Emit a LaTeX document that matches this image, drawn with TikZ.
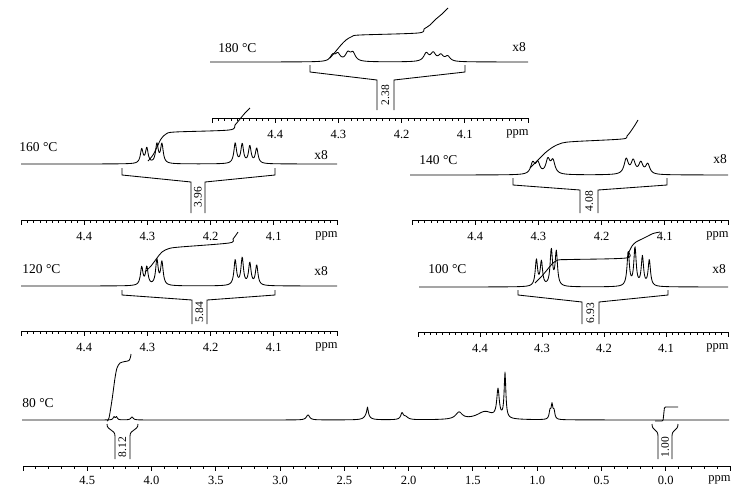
\documentclass[tikz,border=0pt]{standalone}
\usepackage{fontspec}
\setmainfont{Liberation Serif}
\begin{document}
\begin{tikzpicture}[x=1pt,y=-1pt,line width=0.85pt,
  declare function={lor(\d,\w,\h)=\h/(1+(min(abs(\d)/\w,100))^2);},
  spec/.style={line join=round},
  integ/.style={line join=round},
  brk/.style={line join=miter},
  templab/.style={font=\fontsize{13.5}{13.5}\selectfont,anchor=west,inner sep=0pt},
  xlab/.style={font=\fontsize{13.5}{13.5}\selectfont,inner sep=0pt},
  ticklab/.style={font=\fontsize{12.5}{12.5}\selectfont,inner sep=0pt},
  intlab/.style={font=\fontsize{11.5}{11.5}\selectfont,inner sep=0pt,rotate=90}]
\useasboundingbox (0,0) rectangle (738,491);

% ---- axis for the 4.5-4.0 ppm panels: #1 L, #2 R, #3 y, #4 id
\newcommand\ppmaxis[4]{%
  \draw (#1,#3) -- (#2,#3);
  \foreach \i in {0,...,50}{%
    \pgfmathsetmacro\xx{#1+\i*((#2-#1)/50)}%
    \pgfmathtruncatemacro\mm{mod(\i,10)}%
    \ifnum\mm=0 \draw (\xx,#3) -- (\xx,#3+5);\else \draw (\xx,#3) -- (\xx,#3+2.5);\fi
  }
  \foreach \v [count=\k] in {4.4,4.3,4.2,4.1}{%
    \node[ticklab] (#4-t\k) at ({#1+\k*((#2-#1)/5)},#3+16) {\v};
  }
  \node[ticklab,anchor=east] (#4-ppm) at (#2+1,#3+16) {ppm};
}
% ---- bracket: #1 xl, #2 xr, #3 xc1, #4 xc2, #5 top, #6 corner, #7 slant end, #8 bottom
\newcommand\intbracket[8]{%
  \draw[brk] (#1,#5) -- (#1,#6) -- (#3,#7) -- (#3,#8);
  \draw[brk] (#2,#5) -- (#2,#6) -- (#4,#7) -- (#4,#8);
}

% ================= 180 C =================
\node[templab] (T180) at (218,48) {180 °C};
\node[xlab] (X180) at (519,47) {x8};
\draw[spec] plot[domain=210:528,samples=640] (\x,{62-lor(\x-332.7,3,6)-lor(\x-337.8,3,7)-lor(\x-347.9,3,8)-lor(\x-352.9,3,8)-lor(\x-426.2,3,8)-lor(\x-433.2,3,8)-lor(\x-440.8,3,6)-lor(\x-447.7,3,5)});
\draw[integ] plot[smooth,tension=0.5] coordinates {(330,58) (336,51) (341,45) (346,40) (352,36.5) (360,35) (418,33) (424,29) (430,25) (436,19) (442,14) (448,8)};
\intbracket{310}{465}{377}{394}{65}{72}{80}{110}
\node[intlab] (I180) at (385.5,95) {2.38};
\ppmaxis{212}{528}{118}{A180}

% ================= 160 C =================
\node[templab] (T160) at (19,147) {160 °C};
\node[xlab] (X160) at (321,155) {x8};
\draw[spec] plot[domain=21:337,samples=640] (\x,{164-lor(\x-141.7,1.6,14)-lor(\x-146.8,1.6,15)-lor(\x-156.9,1.6,19)-lor(\x-161.9,1.6,19)-lor(\x-235.2,1.6,20)-lor(\x-242.2,1.6,19)-lor(\x-249.8,1.6,17)-lor(\x-256.7,1.6,15)});
\draw[integ] plot[smooth,tension=0.5] coordinates {(148,161) (153,155) (157,147) (161,139) (166,134) (175,132) (229,130) (235,125) (240,119) (245,113) (250,108)};
\intbracket{122}{275}{191}{205}{168}{175}{182}{213}
\node[intlab] (I160) at (198,197) {3.96};
\ppmaxis{21}{337}{220}{A160}

% ================= 140 C =================
\node[templab] (T140) at (419,160) {140 °C};
\node[xlab] (X140) at (720,159) {x8};
\draw[spec] plot[domain=410:728,samples=640] (\x,{175-lor(\x-532.7,2.5,11)-lor(\x-537.8,2.5,11)-lor(\x-547.9,2.5,14)-lor(\x-552.9,2.5,13)-lor(\x-626.2,2.5,15)-lor(\x-633.2,2.5,13)-lor(\x-640.8,2.5,11)-lor(\x-647.7,2.5,10)});
\draw[integ] plot[smooth,tension=0.5] coordinates {(530,168) (537,161) (545,153) (553,147) (562,143) (575,141.5) (622,139) (627,136) (631,131) (635,125) (638,120)};
\intbracket{513}{667}{580}{598}{178}{185}{190}{213}
\node[intlab] (I140) at (589,201) {4.08};
\ppmaxis{412}{728}{220}{A140}

% ================= 120 C =================
\node[templab] (T120) at (22,269) {120 °C};
\node[xlab] (X120) at (321,271) {x8};
\draw[spec] plot[domain=21:337,samples=640] (\x,{286-lor(\x-141.7,1.5,18)-lor(\x-146.8,1.5,18)-lor(\x-156.9,1.5,25)-lor(\x-161.9,1.5,23)-lor(\x-235.2,1.5,25)-lor(\x-242.2,1.5,27)-lor(\x-249.8,1.5,22)-lor(\x-256.7,1.5,20)});
\draw[integ] plot[smooth,tension=0.5] coordinates {(145,272) (151,266) (157,258) (162,252) (169,248.5) (180,247) (229,243) (233,239) (236,235) (238,232)};
\intbracket{122}{275}{192}{207}{290}{295}{300}{324}
\node[intlab] (I120) at (199.5,312) {5.84};
\ppmaxis{21}{337}{331}{A120}

% ================= 100 C =================
\node[templab] (T100) at (428,269) {100 °C};
\node[xlab] (X100) at (719,269) {x8};
\draw[spec] plot[domain=419:728,samples=640] (\x,{287-lor(\x-536.4,1.4,26)-lor(\x-541.4,1.4,24)-lor(\x-551.3,1.4,36)-lor(\x-556.3,1.4,34)-lor(\x-628.2,1.4,34)-lor(\x-635.0,1.4,38)-lor(\x-642.4,1.4,29)-lor(\x-649.3,1.4,26)});
\draw[integ] plot[smooth,tension=0.5] coordinates {(535,283) (541,277) (547,270) (552,264) (558,260) (570,259.5) (626,258) (629,252) (632,246) (636,242) (642,239) (648,236) (653,233.5) (660,232)};
\intbracket{518}{668}{582}{599}{290}{295}{302}{324}
\node[intlab] (I100) at (590.5,313) {6.93};
\ppmaxis{418}{728}{332}{A100}

% ================= 80 C =================
\node[templab] (T80) at (22,403) {80 °C};
\draw[spec] plot[domain=22:729,samples=1415] (\x,{420-lor(\x-114,1,3)-lor(\x-116.5,1,3)-lor(\x-132,1.5,3)-lor(\x-308,2,5)-lor(\x-367,3,5)-lor(\x-367.5,0.8,8)-lor(\x-402,1.5,6)-lor(\x-405.5,3,3)-lor(\x-459,4,7)-lor(\x-485,10,8)-lor(\x-498,1.5,28)-lor(\x-505,1,45)-lor(\x-550,1,8)-lor(\x-552,1,14)-lor(\x-554,1,8)});
\draw[integ] plot[smooth,tension=0.5] coordinates {(107,421) (109,418) (112,400) (115,378) (117,368) (120,363) (125,361.5) (129,360.5) (130.5,357) (131,354)};
\draw[integ,rounded corners=1pt] (655,421) -- (663,421) -- (664.5,407) -- (678,407);
\draw (107,424) .. controls (107,431) and (115,429) .. (115,436) -- (115,459);
\draw (138,424) .. controls (138,431) and (130,429) .. (130,436) -- (130,459);
\node[intlab] (I80a) at (122.5,447) {8.12};
\draw (652,424) .. controls (652,431) and (658,429) .. (658,436) -- (658,459);
\draw (678,424) .. controls (678,431) and (672,429) .. (672,436) -- (672,459);
\node[intlab] (I80b) at (665,447) {1.00};
% axis 5.0 .. -0.5 ppm
\draw (23,466) -- (730,466);
\foreach \i in {0,...,55}{%
  \pgfmathsetmacro\xx{23+\i*12.85455}%
  \pgfmathtruncatemacro\mm{mod(\i,5)}%
  \ifnum\mm=0 \draw (\xx,466) -- (\xx,471);\else \draw (\xx,466) -- (\xx,468.5);\fi
}
\foreach \v [count=\k] in {4.5,4.0,3.5,3.0,2.5,2.0,1.5,1.0,0.5,0.0}{%
  \node[ticklab] (B-t\k) at ({23+\k*64.2727},480) {\v};
}
\node[ticklab,anchor=east] (B-ppm) at (731,480) {ppm};
\end{tikzpicture}
\end{document}
